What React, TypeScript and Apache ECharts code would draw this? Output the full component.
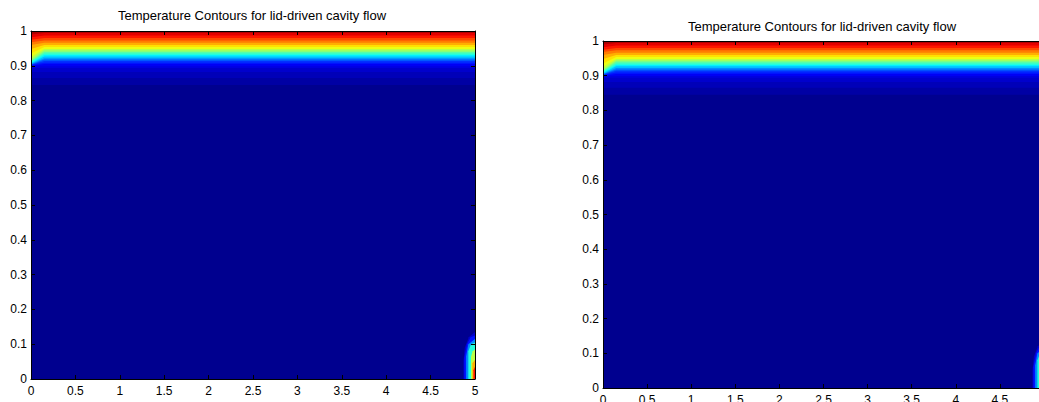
import React, { useEffect, useRef } from "react";
import * as echarts from "echarts";

// ---------- data ----------
const chartTitle = "Temperature Contours for lid-driven cavity flow";
const xTickLabels = ["0", "0.5", "1", "1.5", "2", "2.5", "3", "3.5", "4", "4.5", "5"];
const yTickLabels = ["0", "0.1", "0.2", "0.3", "0.4", "0.5", "0.6", "0.7", "0.8", "0.9", "1"];

// contour levels of the (normalised) temperature
const levels = [0.02, 0.04, 0.06, 0.08, 0.1, 0.13, 0.16, 0.2, 0.25, 0.3, 0.35, 0.4, 0.45, 0.5, 0.55, 0.6, 0.65, 0.7, 0.75, 0.8, 0.85, 0.9, 0.95, 0.975];
// height of each contour away from the left wall
const interiorY = [0.845, 0.865, 0.882, 0.894, 0.899, 0.905, 0.909, 0.914, 0.918, 0.922, 0.927, 0.931, 0.935, 0.94, 0.944, 0.948, 0.954, 0.96, 0.966, 0.973, 0.98, 0.987, 0.994, 0.997];
// height of each contour on the left wall (x = 0)
const wallY = [0.845, 0.865, 0.882, 0.894, 0.898, 0.9, 0.902, 0.903, 0.904, 0.905, 0.907, 0.909, 0.912, 0.914, 0.918, 0.925, 0.935, 0.948, 0.96, 0.968, 0.975, 0.982, 0.99, 0.996];
// x where the wall contours rejoin the interior value
const wallLayerX = 0.15;
const xEnd = 5;

// hot spot in the bottom-right corner: level and outline (filled down to y = 0)
const hotLevels = [0.06, 0.13, 0.25, 0.4, 0.55, 0.7, 0.85];
const hotOutlines: number[][][] = [
  [[4.87, 0], [4.87, 0.05], [4.885, 0.09], [4.93, 0.12], [5, 0.135]],
  [[4.88, 0], [4.88, 0.06], [4.91, 0.1], [4.95, 0.12], [5, 0.125]],
  [[4.9, 0], [4.9, 0.065], [4.925, 0.1], [5, 0.115]],
  [[4.925, 0], [4.925, 0.08], [4.955, 0.1], [5, 0.105]],
  [[4.955, 0], [4.955, 0.065], [4.975, 0.08], [5, 0.085]],
  [[4.97, 0], [4.97, 0.045], [5, 0.055]],
  [[4.982, 0], [4.982, 0.025], [5, 0.035]],
];

// ---------- styling helpers ----------
const FONT = "'Liberation Sans', Arial, Helvetica, sans-serif";

function jet(v: number): string {
  // MATLAB jet(64) look-up
  const t = (1 + v * 63) / 64;
  const c = (x: number) => Math.round(Math.max(0, Math.min(1, x)) * 255);
  const r = c(1.5 - Math.abs(4 * t - 3));
  const g = c(1.5 - Math.abs(4 * t - 2));
  const b = c(1.5 - Math.abs(4 * t - 1));
  return `rgb(${r},${g},${b})`;
}

const grids = [
  { left: 31, top: 31, width: 444, height: 348, titleX: 252, titleY: 15 },
  { left: 603, top: 41, width: 441, height: 347, titleX: 822, titleY: 26 },
];

export default function App() {
  const ref = useRef<HTMLDivElement>(null);

  useEffect(() => {
    if (!ref.current) return;
    const chart = echarts.init(ref.current, undefined, { renderer: "svg" });

    const xMin = Number(xTickLabels[0]);
    const xMax = Number(xTickLabels[xTickLabels.length - 1]);
    const xStep = Number(xTickLabels[1]) - xMin;
    const yMin = Number(yTickLabels[0]);
    const yMax = Number(yTickLabels[yTickLabels.length - 1]);
    const yStep = Number(yTickLabels[1]) - yMin;

    const axisLine = { show: true, onZero: false, lineStyle: { color: "#000", width: 1 } };
    const axisTick = { show: true, inside: true, length: 4, lineStyle: { color: "#000", width: 1 } };
    const label = { color: "#000", fontSize: 12, fontFamily: FONT };

    const xAxis: any[] = [];
    const yAxis: any[] = [];
    const series: any[] = [];

    grids.forEach((g, gi) => {
      xAxis.push(
        {
          type: "value", gridIndex: gi, position: "bottom", min: xMin, max: xMax, interval: xStep,
          axisLine, axisTick, splitLine: { show: false }, z: 10,
          axisLabel: { ...label, margin: 6 },
        },
        {
          type: "value", gridIndex: gi, position: "top", min: xMin, max: xMax, interval: xStep,
          axisLine, axisTick, splitLine: { show: false }, z: 10,
          axisLabel: { show: false },
        }
      );
      yAxis.push(
        {
          type: "value", gridIndex: gi, position: "left", min: yMin, max: yMax, interval: yStep,
          axisLine, axisTick, splitLine: { show: false }, z: 10,
          axisLabel: { ...label, margin: 4 },
        },
        {
          type: "value", gridIndex: gi, position: "right", min: yMin, max: yMax, interval: yStep,
          axisLine, axisTick, splitLine: { show: false }, z: 10,
          axisLabel: { show: false },
        }
      );

      levels.forEach((lv, k) => {
        series.push({
          type: "line",
          xAxisIndex: gi * 2,
          yAxisIndex: gi * 2,
          data: [[xMin, wallY[k]], [wallLayerX, interiorY[k]], [xEnd, interiorY[k]]],
          symbol: "none",
          showSymbol: false,
          lineStyle: { width: 0, opacity: 0 },
          areaStyle: { origin: "end", color: jet(lv), opacity: 1 },
          silent: true,
          clip: true,
        });
      });

      hotLevels.forEach((lv, k) => {
        series.push({
          type: "line",
          xAxisIndex: gi * 2,
          yAxisIndex: gi * 2,
          data: hotOutlines[k],
          symbol: "none",
          showSymbol: false,
          lineStyle: { width: 0, opacity: 0 },
          areaStyle: { origin: "start", color: jet(lv), opacity: 1 },
          silent: true,
          clip: true,
        });
      });
    });

    chart.setOption({
      animation: false,
      backgroundColor: "#fff",
      grid: grids.map((g) => ({
        left: g.left, top: g.top, width: g.width, height: g.height,
        show: true, backgroundColor: jet(0), borderWidth: 0,
        containLabel: false, outerBoundsMode: "none",
      })),
      xAxis,
      yAxis,
      series,
      graphic: grids.map((g) => ({
        type: "text",
        x: g.titleX,
        y: g.titleY,
        z: 20,
        style: {
          text: chartTitle,
          fill: "#000",
          fontSize: 13,
          fontFamily: FONT,
          textAlign: "center",
          textVerticalAlign: "middle",
        },
      })),
    });

    return () => chart.dispose();
  }, []);

  return (
    <div
      ref={ref}
      style={{ position: "fixed", left: 0, top: 0, width: 1039, height: 402, background: "#fff" }}
    />
  );
}
